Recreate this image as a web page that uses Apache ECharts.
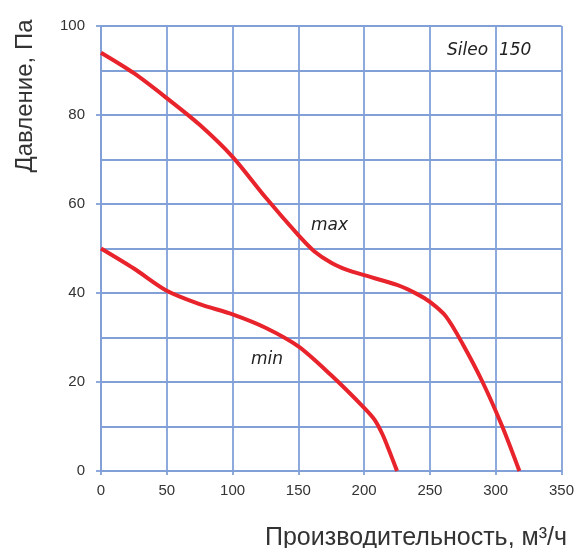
<!DOCTYPE html>
<html>
<head>
<meta charset="utf-8">
<script src="https://cdn.jsdelivr.net/npm/echarts@6/dist/echarts.min.js"></script>
<style>html,body{margin:0;padding:0;background:#fff}#c{width:577px;height:548px}</style>
</head>
<body>
<div id="c"></div>
<script>
const maxFlow = [0, 25, 50, 75, 100, 125, 150, 162, 175, 187, 200, 225, 240, 250, 262, 275, 290, 305, 318];
const maxPressure = [94, 89.4, 83.8, 77.8, 70.6, 61.5, 53, 49.4, 46.8, 45.2, 44, 41.8, 39.8, 38, 34.8, 28.5, 20, 10, 0];
const minFlow = [0, 25, 50, 75, 100, 125, 150, 175, 200, 208, 214, 219, 225];
const minPressure = [50, 45.5, 40.5, 37.5, 35.2, 32.2, 28, 21.5, 14.2, 11.5, 8.2, 4.6, 0];
const xTicks = [0, 50, 100, 150, 200, 250, 300, 350];
const yTicks = [0, 20, 40, 60, 80, 100];

const gridColor = '#82a0d8';
const red = '#e8232b';
const chart = echarts.init(document.getElementById('c'));
const pairs = (xs, ys) => xs.map((x, i) => [x, ys[i]]);

chart.setOption({
  animation: false,
  grid: { left: 101, right: 15, top: 26, bottom: 77, containLabel: false },
  xAxis: {
    type: 'value', min: xTicks[0], max: xTicks[xTicks.length - 1], interval: 50,
    axisLine: { show: true, lineStyle: { color: gridColor, width: 1.8 } },
    axisTick: { show: true, length: 4, lineStyle: { color: gridColor, width: 1.8 } },
    splitLine: { show: true, lineStyle: { color: gridColor, width: 1.8 } },
    axisLabel: { color: '#333', fontSize: 15, fontFamily: 'Liberation Sans', margin: 12 }
  },
  yAxis: {
    type: 'value', min: yTicks[0], max: yTicks[yTicks.length - 1], interval: 20,
    axisLine: { show: true, lineStyle: { color: gridColor, width: 1.8 } },
    axisTick: { show: true, length: 5, lineStyle: { color: gridColor, width: 1.8 } },
    minorTick: { show: false, splitNumber: 2 },
    splitLine: { show: true, lineStyle: { color: gridColor, width: 1.8 } },
    minorSplitLine: { show: true, lineStyle: { color: gridColor, width: 1.8 } },
    axisLabel: { color: '#333', fontSize: 15, fontFamily: 'Liberation Sans', margin: 16 }
  },
  graphic: [
    { type: 'text', x: 25, y: 96, rotation: Math.PI / 2,
      style: { text: 'Давление, Па', fill: '#333', font: '24px "Liberation Sans"', align: 'center', verticalAlign: 'middle' } },
    { type: 'text', x: 567, y: 538,
      style: { text: 'Производительность, м³/ч', fill: '#333', font: '25px "Liberation Sans"', align: 'right', verticalAlign: 'middle' } },
    { type: 'text', x: 447, y: 51,
      style: { text: 'Sileo  150', fill: '#222', font: 'italic 17px "DejaVu Sans"', align: 'left', verticalAlign: 'middle' } },
    { type: 'text', x: 311, y: 226,
      style: { text: 'max', fill: '#222', font: 'italic 17px "DejaVu Sans"', align: 'left', verticalAlign: 'middle' } },
    { type: 'text', x: 251, y: 360,
      style: { text: 'min', fill: '#222', font: 'italic 17px "DejaVu Sans"', align: 'left', verticalAlign: 'middle' } }
  ],
  series: [
    { type: 'line', data: pairs(maxFlow, maxPressure), smooth: 0.3, showSymbol: false,
      lineStyle: { color: red, width: 4 }, z: 5 },
    { type: 'line', data: pairs(minFlow, minPressure), smooth: 0.3, showSymbol: false,
      lineStyle: { color: red, width: 4 }, z: 5 }
  ]
});
</script>
</body>
</html>
